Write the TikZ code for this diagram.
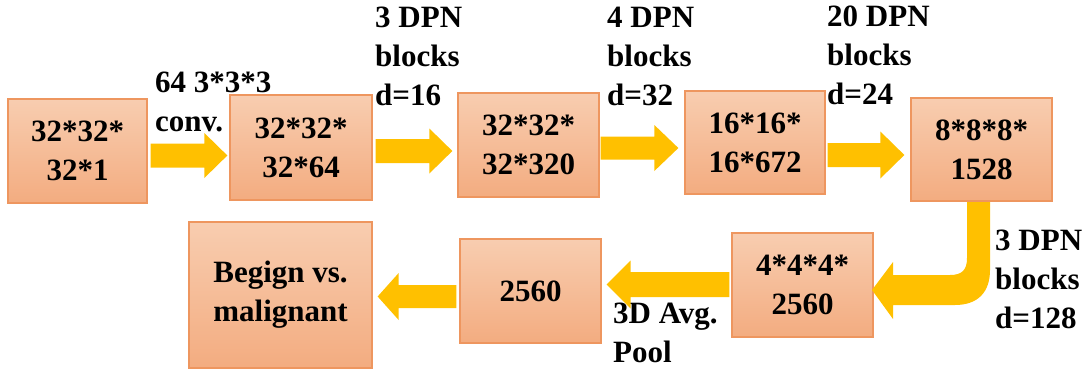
\documentclass[tikz,border=0pt]{standalone}
\usepackage{fontspec}
\setmainfont{Liberation Serif}
\usetikzlibrary{calc}
\definecolor{boxtop}{HTML}{F8CDB0}
\definecolor{boxmid}{HTML}{F6C29F}
\definecolor{boxbot}{HTML}{F3AC80}
\definecolor{boxline}{HTML}{EE965F}
\definecolor{flow}{HTML}{FFC000}
\begin{document}
\begin{tikzpicture}[x=1pt,y=-1pt,
  stage/.style={draw=boxline, line width=1.3pt, top color=boxtop, middle color=boxmid,
    bottom color=boxbot, align=center, inner sep=0pt,
    font=\bfseries\fontsize{31}{39}\selectfont},
  note/.style={anchor=north west, align=left, inner sep=0pt,
    font=\bfseries\fontsize{31}{39}\selectfont},
  % block arrow: #1 half shaft width, #2 half head width, #3 head length
  blockarrow/.style n args={3}{fill=flow, to path={
    let \p1=(\tikztostart), \p2=(\tikztotarget), \n1={sign(\x2-\x1)} in
    (\x1,\y1+#1) -- (\x2-\n1*#3,\y1+#1) -- (\x2-\n1*#3,\y1+#2) -- (\x2,\y1)
    -- (\x2-\n1*#3,\y1-#2) -- (\x2-\n1*#3,\y1-#1) -- (\x1,\y1-#1) -- cycle}}
]
\useasboundingbox (0,0) rectangle (1089,369);

% stages of the network, top row left to right
\node[stage, minimum width=139pt, minimum height=104pt] (b1) at (77.5,151) {32*32*\\32*1};
\node[stage, minimum width=142pt, minimum height=105pt] (b2) at (301,147.5) {32*32*\\32*64};
\node[stage, minimum width=141pt, minimum height=104pt] (b3) at (528.5,145) {32*32*\\32*320};
\node[stage, minimum width=140pt, minimum height=103pt] (b4) at (755,142.5) {16*16*\\16*672};
\node[stage, minimum width=141pt, minimum height=103pt] (b5) at (981.5,149.5) {8*8*8*\\1528};

% bottom row, right to left
\node[stage, minimum width=141pt, minimum height=104pt] (b6) at (802.5,285) {4*4*4*\\2560};
\node[stage, minimum width=141pt, minimum height=104pt] (b7) at (530.5,291) {2560};
\node[stage, minimum width=183pt, minimum height=146pt] (b8) at (280.5,295) {Begign vs.\\malignant};

% operations between stages
\node[note] (t1) at (155,72) {64 3*3*3\\conv.};
\node[note] (t2) at (375,7) {3 DPN\\blocks\\d=16};
\node[note] (t3) at (607,7) {4 DPN\\blocks\\d=32};
\node[note] (t4) at (827,6) {20 DPN\\blocks\\d=24};
\node[note] (t5) at (995,230) {3 DPN\\blocks\\d=128};
\node[note] (t6) at (613,303) {3D Avg.\\Pool};

% block arrows between stages
\path[blockarrow={12pt}{22.5pt}{23pt}]
  ($(b1.east |- 0,155.5)+(3,0)$) to ($(b2.west |- 0,155.5)+(-2,0)$);
\path[blockarrow={12pt}{22.5pt}{23pt}]
  ($(b2.east |- 0,151)+(3,0)$) to ($(b3.west |- 0,151)+(-5,0)$);
\path[blockarrow={11.5pt}{23pt}{24pt}]
  ($(b3.east |- 0,148)+(1,0)$) to ($(b4.west |- 0,148)+(-6,0)$);
\path[blockarrow={12pt}{23.5pt}{24pt}]
  ($(b4.east |- 0,155)+(2,0)$) to ($(b5.west |- 0,155)+(-6,0)$);
\path[blockarrow={12.5pt}{24pt}{24pt}]
  ($(b6.west |- 0,284.5)+(-2,0)$) to ($(b7.east |- 0,284.5)+(5,0)$);
\path[blockarrow={11.5pt}{23.5pt}{21pt}]
  ($(b7.west |- 0,296.5)+(-3,0)$) to ($(b8.east |- 0,296.5)+(5,0)$);

% bent arrow from the last top stage down to the bottom row
\fill[flow] (967,202) -- (967,258) .. controls (967,270) and (962,275) .. (950,275)
  -- (893,275) -- (893,262) -- (872,290) -- (893,319) -- (893,305) -- (955,305)
  .. controls (978,305) and (990,292) .. (990,270) -- (990,202) -- cycle;
\end{tikzpicture}
\end{document}
